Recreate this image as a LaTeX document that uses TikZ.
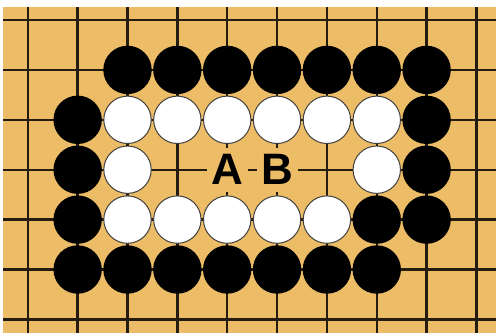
\documentclass[tikz,border=0pt]{standalone}
\usepackage{fontspec}
\setmainfont{Liberation Sans}
\definecolor{board}{RGB}{236,189,102}
\definecolor{gridc}{RGB}{35,28,15}
\tikzset{
  bstone/.style={circle,fill=black,inner sep=0pt,minimum size=48.4pt},
  wstone/.style={circle,fill=white,draw=black!75,line width=1pt,inner sep=0pt,minimum size=47.4pt},
  gridline/.style={draw=gridc,line width=2.4pt},
  lbl/.style={fill=board,inner sep=0pt,minimum width=41pt,minimum height=44pt,
    font=\fontsize{44}{44}\selectfont\bfseries,text=black}
}
\begin{document}
\begin{tikzpicture}[x=1pt,y=-1pt]
\useasboundingbox (0,0) rectangle (496,333);
\fill[white] (0,0) rectangle (496,333);
\fill[board] (3,7) rectangle (496,333);
% grid
\foreach \i in {0,...,9} {
  \coordinate (vt\i) at ({27.8+49.85*\i},7);
  \coordinate (vb\i) at ({27.8+49.85*\i},333);
  \draw[gridline] (vt\i) -- (vb\i);
}
\foreach \j in {0,...,6} {
  \coordinate (hl\j) at (3,{20+49.9*\j});
  \coordinate (hr\j) at (496,{20+49.9*\j});
  \draw[gridline] (hl\j) -- (hr\j);
}
% black stones
\foreach \c/\r in {2/1,3/1,4/1,5/1,6/1,7/1,8/1,
                   1/2,8/2,
                   1/3,8/3,
                   1/4,7/4,8/4,
                   1/5,2/5,3/5,4/5,5/5,6/5,7/5} {
  \node[bstone] (b-\c-\r) at ({27.8+49.85*\c},{20+49.9*\r}) {};
}
% white stones
\foreach \c/\r in {2/2,3/2,4/2,5/2,6/2,7/2,
                   2/3,7/3,
                   2/4,3/4,4/4,5/4,6/4} {
  \node[wstone] (w-\c-\r) at ({27.8+49.85*\c},{20+49.9*\r}) {};
}
% labels
\node[lbl] (A) at ({27.8+49.85*4},{20+49.9*3}) {A};
\node[lbl] (B) at ({27.8+49.85*5},{20+49.9*3}) {B};
\end{tikzpicture}
\end{document}
